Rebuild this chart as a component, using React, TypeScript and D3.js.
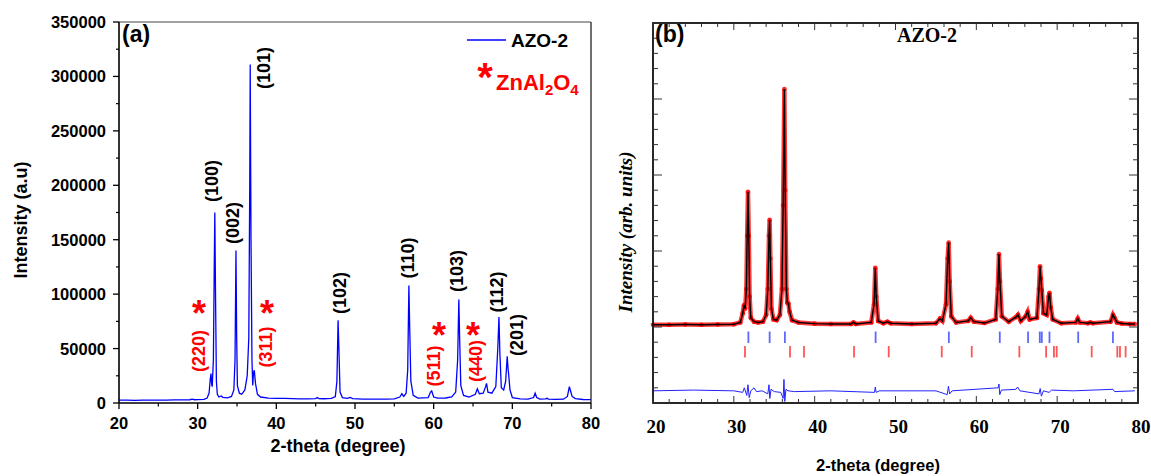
import React from "react";
import * as d3 from "d3";

// ---------- Panel (a) data: XRD pattern AZO-2 (2-theta, intensity) ----------
const twoThetaA: number[] = [
  20, 21, 22, 23, 24, 25, 26, 27, 28, 29, 29.3, 29.6, 30, 30.8, 31.2, 31.45, 31.6, 31.7, 31.78, 31.85,
  32.0, 32.1, 32.18, 32.27, 32.38, 32.5, 32.7, 33.0, 33.2, 33.8, 34.3, 34.6, 34.75, 34.87, 34.96, 35.05,
  35.3, 35.6, 36.0, 36.3, 36.5, 36.62, 36.68, 36.78, 36.9, 37.0, 37.1, 37.2, 37.35, 37.6, 38.0, 39, 40,
  41, 42, 43, 44, 45, 45.2, 45.4, 46, 47, 47.5, 47.7, 47.85, 47.97, 48.1, 48.4, 49, 49.4, 49.7, 51, 53,
  54, 55, 55.7, 55.95, 56.2, 56.5, 56.7, 56.85, 56.95, 57.1, 57.4, 58, 59.3, 59.6, 59.75, 60, 60.5, 61.5,
  62.3, 62.8, 63.05, 63.2, 63.3, 63.45, 63.8, 64.5, 65.3, 65.55, 65.8, 66.3, 66.6, 66.72, 66.9, 67.4,
  67.9, 68.15, 68.3, 68.42, 68.6, 68.9, 69.15, 69.35, 69.45, 69.55, 69.7, 70, 71, 72, 72.7, 72.9, 73.1,
  73.5, 74.2, 74.4, 74.6, 75.5, 76.5, 77.0, 77.25, 77.4, 77.6, 78, 79, 80,
];
const intensityA: number[] = [
  2600, 2700, 2500, 2600, 2700, 2600, 2700, 2800, 2900, 3000, 3600, 3000, 3100, 3400, 4500, 9000, 22000, 27000, 17000, 15000,
  40000, 120000, 175000, 100000, 20000, 8000, 5500, 6500, 5200, 4800, 6000, 12000, 40000, 140000, 60000, 16000,
  9000, 8000, 12000, 25000, 60000, 200000, 311000, 150000, 40000, 16000, 28000, 30000, 18000, 8000, 5500, 4500, 4300,
  4200, 4000, 3800, 3800, 4000, 5000, 4000, 3900, 4200, 6000, 20000, 76000, 45000, 10000, 5000, 4200, 5200, 4000, 3600, 3500,
  3600, 3800, 5500, 8500, 6000, 9000, 30000, 108000, 70000, 20000, 7000, 4500, 5000, 10000, 11000, 5500, 4500, 4600,
  5500, 10000, 40000, 95000, 60000, 16000, 7000, 5500, 8000, 13000, 8500, 9000, 15000, 18000, 10000, 9000,
  15000, 50000, 79000, 45000, 14000, 12000, 20000, 43000, 32000, 25000, 12000, 5000, 3800, 3600, 5000, 9000, 5000,
  3600, 3800, 4300, 3500, 3300, 3500, 6000, 15000, 11000, 6000, 4000, 3200, 3100,
];

const yTicksA: number[] = [0, 50000, 100000, 150000, 200000, 250000, 300000, 350000];
const xTicksA: number[] = [20, 30, 40, 50, 60, 70, 80];

// ZnO reflections (black) and ZnAl2O4 reflections (red): label, 2-theta, intensity of label centre
const zno = ["(100)", "(002)", "(101)", "(102)", "(110)", "(103)", "(112)", "(201)"];
const znoX = [31.82, 34.49, 38.43, 48.09, 56.74, 62.97, 68.05, 70.59];
const znoY = [203900, 165300, 307700, 101000, 133200, 121300, 102000, 62500];
const spinel = ["(220)", "(311)", "(511)", "(440)"];
const spinelX = [30.17, 38.69, 60.04, 65.38];
const spinelY = [47800, 51400, 34000, 38600];
const starX = [30.17, 38.81, 60.68, 65.0];
const starY = [90000, 90000, 69800, 69800];

// ---------- Panel (b) data: Rietveld refinement ----------
const twoThetaB: number[] = [
  20, 22, 24, 26, 28, 30, 30.8, 31.1, 31.25, 31.4, 31.55, 31.65, 31.75, 31.85, 31.95, 32.1, 32.5, 33, 33.6,
  34.0, 34.2, 34.35, 34.43, 34.52, 34.65, 34.9, 35.3, 35.7, 35.95, 36.1, 36.25, 36.35, 36.5, 36.62, 36.75,
  36.9, 37.2, 38, 40, 42, 44.5, 44.8, 45.1, 47, 47.35, 47.5, 47.62, 47.85, 48.5, 49, 49.4, 52, 55, 55.5,
  55.8, 56.25, 56.45, 56.58, 56.7, 56.9, 57.5, 59, 59.3, 59.7, 61, 62.4, 62.65, 62.8, 62.92, 63.15, 64,
  64.9, 65.15, 65.5, 66.1, 66.35, 66.6, 67.5, 67.75, 67.88, 67.98, 68.1, 68.3, 68.7, 68.95, 69.05, 69.2,
  69.45, 70.5, 72.3, 72.55, 72.8, 73.8, 74.1, 74.4, 76.6, 76.9, 77.1, 77.4, 78, 79, 79.6,
];
const observedB: number[] = [
  150, 150, 160, 150, 160, 180, 300, 900, 1450, 1200, 2500, 6000, 8900, 6000, 2000, 600, 350, 300, 350,
  800, 2500, 6000, 7050, 4500, 1200, 500, 450, 800, 2500, 8000, 15650, 9000, 2500, 1600, 1550,
  1000, 450, 300, 220, 200, 200, 300, 200, 300, 1500, 3900, 2000, 400, 250, 350, 250, 200, 250, 550,
  400, 1500, 4500, 5550, 3000, 700, 300, 400, 600, 350, 260, 500, 2500, 4800, 3000, 700, 350,
  650, 800, 400, 700, 1000, 500, 600, 2500, 4000, 3200, 2400, 900, 800, 2000, 2250, 1300,
  500, 250, 300, 550, 300, 250, 300, 250, 350, 800, 600, 300, 230, 200, 200,
];
const twoThetaDiff: number[] = [
  20, 25, 30, 31.1, 31.3, 31.6, 31.75, 31.9, 32.1, 32.5, 32.8, 33.5, 34.2, 34.35, 34.45, 34.6, 35, 35.8,
  36.1, 36.2, 36.3, 36.45, 36.7, 37.5, 42, 47.4, 47.5, 47.6, 48, 55, 56.4, 56.55, 56.7, 57, 62.7, 62.8,
  62.9, 63.1, 64.9, 65.1, 65.4, 67.75, 67.9, 68.05, 68.3, 69, 69.3, 72, 76.9, 77.1, 79.6,
];
const differenceB: number[] = [
  -4200, -4150, -4200, -4300, -4000, -4500, -3800, -4650, -4200, -4000, -4250, -4200, -4400, -3800, -4700, -4100, -4250, -4300,
  -4700, -3450, -4900, -4100, -4200, -4250, -4200, -4300, -3950, -4300, -4200, -4200, -4450, -3900, -4400, -4200, -4000, -3750,
  -4450, -4150, -4100, -3950, -4200, -4400, -4050, -4550, -4200, -4300, -4150, -4200, -4100, -4250, -4200,
];
const braggZnO: number[] = [31.8, 34.43, 36.32, 47.54, 56.6, 62.9, 66.4, 67.85, 68.1, 69.05, 72.6, 76.9];
const braggSpinel: number[] = [31.38, 36.95, 38.68, 44.87, 49.16, 55.72, 59.43, 65.32, 68.63, 69.6, 69.94, 74.27, 77.44, 77.77, 78.47];
const xTicksB: number[] = [20, 30, 40, 50, 60, 70, 80];

const SANS = "'Liberation Sans', Arial, sans-serif";
const SERIF = "'Liberation Serif', 'Times New Roman', serif";

export default function App() {
  // panel (a)
  const xA = d3.scaleLinear().domain([20, 80]).range([119, 591]);
  const yA = d3.scaleLinear().domain([0, 350000]).range([403, 22]);
  const lineA = d3
    .line<number>()
    .x((_, i) => xA(twoThetaA[i]))
    .y((d) => yA(d));
  const minorYA = d3.range(25000, 350000, 50000);
  const minorXA = d3.range(25, 80, 10);

  // panel (b)
  const xB = d3.scaleLinear().domain([20, 80]).range([653, 1138]);
  const yB = d3.scaleLinear().domain([-5000, 20000]).range([403, 23]);
  const lineB = d3
    .line<number>()
    .x((_, i) => xB(twoThetaB[i]))
    .y((d) => yB(d));
  const lineDiff = d3
    .line<number>()
    .x((_, i) => xB(twoThetaDiff[i]))
    .y((d) => yB(d));
  const yTicksB = d3.range(-5000, 20001, 1000);
  const xMinorB = d3.range(20, 81, 2);

  const starFs = 36;
  return (
    <svg
      width={1151}
      height={476}
      style={{ position: "fixed", left: 0, top: 0, background: "#fff" }}
      fontFamily={SANS}
    >
      <rect x={0} y={0} width={1151} height={476} fill="#fff" />
      {/* ================= Panel (a) ================= */}
      <g>
        <path d={lineA(intensityA) || ""} fill="none" stroke="#0000ff" strokeWidth={1.3} />
        {/* frame */}
        <line x1={119} y1={22} x2={591} y2={22} stroke="#444" strokeWidth={1} />
        <line x1={591} y1={22} x2={591} y2={403} stroke="#222" strokeWidth={1.3} />
        <line x1={119} y1={403} x2={591} y2={403} stroke="#000" strokeWidth={1.6} />
        <line x1={119} y1={22} x2={119} y2={403} stroke="#000" strokeWidth={1.6} />
        {yTicksA.map((t) => (
          <g key={"ya" + t}>
            <line x1={113} x2={119} y1={yA(t)} y2={yA(t)} stroke="#000" strokeWidth={1.3} />
            <text x={106} y={yA(t)} dy="0.36em" textAnchor="end" fontSize={16.5} fontWeight="bold">
              {t}
            </text>
          </g>
        ))}
        {minorYA.map((t) => (
          <line key={"yam" + t} x1={116} x2={119} y1={yA(t)} y2={yA(t)} stroke="#000" strokeWidth={1.2} />
        ))}
        {xTicksA.map((t) => (
          <g key={"xa" + t}>
            <line x1={xA(t)} x2={xA(t)} y1={403} y2={409} stroke="#000" strokeWidth={1.3} />
            <text x={xA(t)} y={429} textAnchor="middle" fontSize={16.5} fontWeight="bold">
              {t}
            </text>
          </g>
        ))}
        {minorXA.map((t) => (
          <line key={"xam" + t} x1={xA(t)} x2={xA(t)} y1={403} y2={406.5} stroke="#000" strokeWidth={1.2} />
        ))}
        <text x={338} y={452} textAnchor="middle" fontSize={18} fontWeight="bold">
          2-theta (degree)
        </text>
        <text
          transform={`translate(27,220) rotate(-90)`}
          textAnchor="middle"
          fontSize={18}
          fontWeight="bold"
        >
          Intensity (a.u)
        </text>
        <text x={122} y={42} fontSize={23} fontWeight="bold">
          (a)
        </text>
        {/* legend */}
        <line x1={467} x2={506} y1={40} y2={40} stroke="#0000ff" strokeWidth={1.3} />
        <text x={511} y={40} dy="0.36em" fontSize={19} fontWeight="bold">
          AZO-2
        </text>
        <text x={485} y={68 + 0.58 * 40} textAnchor="middle" fontSize={40} fontWeight="bold" fill="#ff0000">
          *
        </text>
        <text x={496} y={90} fontSize={22} fontWeight="bold" fill="#ff0000">
          ZnAl
          <tspan fontSize={15} dy={5}>2</tspan>
          <tspan dy={-5}>O</tspan>
          <tspan fontSize={15} dy={5}>4</tspan>
        </text>
        {/* peak labels */}
        {zno.map((s, i) => (
          <text
            key={s}
            transform={`translate(${xA(znoX[i])},${yA(znoY[i])}) rotate(-90)`}
            textAnchor="middle"
            dy="0.35em"
            fontSize={18}
            fontWeight="bold"
          >
            {s}
          </text>
        ))}
        {spinel.map((s, i) => (
          <text
            key={s}
            transform={`translate(${xA(spinelX[i])},${yA(spinelY[i])}) rotate(-90)`}
            textAnchor="middle"
            dy="0.35em"
            fontSize={18}
            fontWeight="bold"
            fill="#ff0000"
          >
            {s}
          </text>
        ))}
        {starX.map((sx, i) => (
          <text
            key={"st" + i}
            x={xA(sx)}
            y={yA(starY[i]) + 0.58 * starFs}
            textAnchor="middle"
            fontSize={starFs}
            fontWeight="bold"
            fill="#ff0000"
          >
            *
          </text>
        ))}
      </g>

      {/* ================= Panel (b) ================= */}
      <g>
        {/* observed (red) */}
        <path d={lineB(observedB) || ""} fill="none" stroke="#ff1a1a" strokeOpacity={0.85} strokeWidth={4.5} />
        {observedB.map((v, i) => (
          <circle key={"ob" + i} cx={xB(twoThetaB[i])} cy={yB(v)} r={2.3} fill="#ff0000" fillOpacity={0.85} />
        ))}
        {/* calculated (black) */}
        <path d={lineB(observedB) || ""} fill="none" stroke="#000" strokeWidth={1.4} />
        {/* Bragg positions */}
        {braggZnO.map((t, i) => (
          <line key={"bz" + i} x1={xB(t)} x2={xB(t)} y1={yB(-300)} y2={yB(-1050)} stroke="#3344ff" strokeOpacity={0.8} strokeWidth={1.8} />
        ))}
        {braggSpinel.map((t, i) => (
          <line key={"bs" + i} x1={xB(t)} x2={xB(t)} y1={yB(-1250)} y2={yB(-2000)} stroke="#ff2a2a" strokeOpacity={0.8} strokeWidth={1.8} />
        ))}
        {/* difference */}
        <path d={lineDiff(differenceB) || ""} fill="none" stroke="#2222ff" strokeWidth={1} />
        {/* frame */}
        <rect x={653} y={23} width={485} height={380} fill="none" stroke="#111" strokeWidth={1.8} />
        {yTicksB.map((t) => {
          const major = t % 5000 === 0;
          const L = major ? 9 : 5;
          return (
            <g key={"yb" + t}>
              <line x1={653} x2={653 + L} y1={yB(t)} y2={yB(t)} stroke="#333" strokeWidth={1} />
              <line x1={1138} x2={1138 - L} y1={yB(t)} y2={yB(t)} stroke="#333" strokeWidth={1} />
            </g>
          );
        })}
        {xMinorB.map((t) => {
          const major = t % 10 === 0;
          const L = major ? 7 : 4;
          return (
            <g key={"xb" + t}>
              <line x1={xB(t)} x2={xB(t)} y1={403} y2={403 - L} stroke="#333" strokeWidth={1} />
              <line x1={xB(t)} x2={xB(t)} y1={23} y2={23 + L} stroke="#333" strokeWidth={1} />
            </g>
          );
        })}
        {xTicksB.map((t) => (
          <text key={"xbl" + t} x={xB(t) + 3} y={433} textAnchor="middle" fontSize={19} fontWeight="bold" fontFamily={SERIF}>
            {t}
          </text>
        ))}
        <text x={655} y={42} fontSize={23} fontWeight="bold">
          (b)
        </text>
        <text x={927} y={42} textAnchor="middle" fontSize={20} fontWeight="bold" fontFamily={SERIF}>
          AZO-2
        </text>
        <text
          transform={`translate(632,232) rotate(-90)`}
          textAnchor="middle"
          fontSize={19}
          fontWeight="bold"
          fontStyle="italic"
          fontFamily={SERIF}
        >
          Intensity (arb. units)
        </text>
        <text x={878} y={471} textAnchor="middle" fontSize={16.5} fontWeight="bold">
          2-theta (degree)
        </text>
      </g>
    </svg>
  );
}
